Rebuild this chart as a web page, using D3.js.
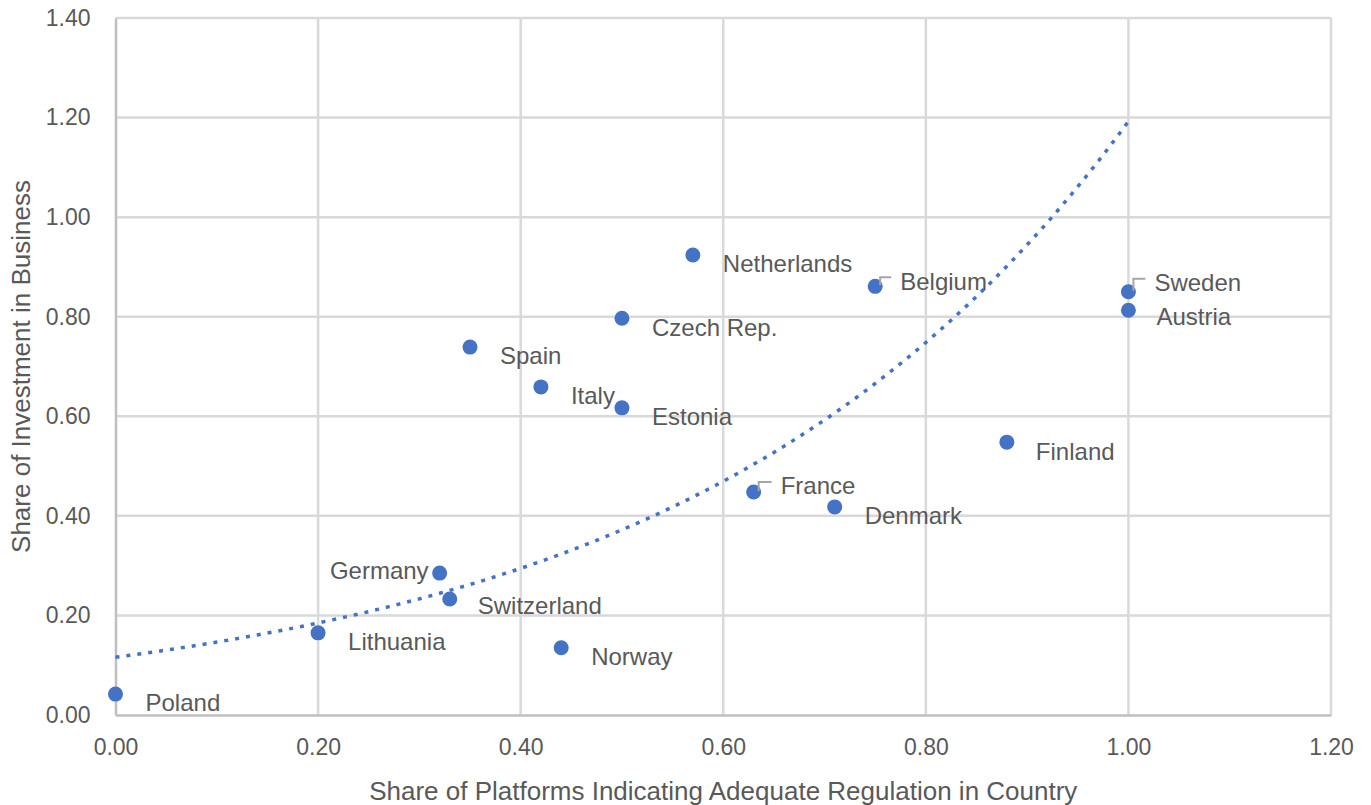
<!DOCTYPE html>
<html>
<head>
<meta charset="utf-8">
<script src="https://cdn.jsdelivr.net/npm/d3@7"></script>
<style>
  html, body { margin: 0; padding: 0; background: #fff; }
  svg { display: block; }
  text { font-family: "Liberation Sans", Arial, sans-serif; fill: #595959; }
</style>
</head>
<body>
<svg id="chart" width="1371" height="805"></svg>
<script>
// ---- data ----
const countries = ["Poland","Lithuania","Germany","Switzerland","Norway","Spain","Italy","Czech Rep.","Estonia","Netherlands","France","Denmark","Belgium","Finland","Sweden","Austria"];
const regulationShare = [0.00, 0.20, 0.32, 0.33, 0.44, 0.35, 0.42, 0.50, 0.50, 0.57, 0.63, 0.71, 0.75, 0.88, 1.00, 1.00];
const investmentShare = [0.042, 0.165, 0.285, 0.233, 0.135, 0.739, 0.659, 0.797, 0.617, 0.924, 0.448, 0.418, 0.861, 0.548, 0.850, 0.813];
// exponential trendline y = a * e^(b x), coefficients
const trendCoef = [0.116, 2.33];
const trendRange = [0, 1.0];
const xTicks = [0, 0.2, 0.4, 0.6, 0.8, 1.0, 1.2];
const yTicks = [0, 0.2, 0.4, 0.6, 0.8, 1.0, 1.2, 1.4];
const xTitle = "Share of Platforms Indicating Adequate Regulation in Country";
const yTitle = "Share of Investment in Business";

// ---- layout ----
const pLeft = 115.5, pRight = 1331, pTop = 18, pBottom = 715;
const blue = "#4472c4";
const fs = 23, lfs = 24, tfs = 26;

const svg = d3.select("#chart");
const x = d3.scaleLinear().domain([0, 1.2]).range([pLeft, pRight]);
const y = d3.scaleLinear().domain([0, 1.4]).range([pBottom, pTop]);

// gridlines
svg.append("g").selectAll("line").data(xTicks.filter(d => d > 0)).join("line")
  .attr("x1", d => x(d)).attr("x2", d => x(d)).attr("y1", pTop).attr("y2", pBottom)
  .attr("stroke", "#d9d9d9").attr("stroke-width", 2.5);
svg.append("g").selectAll("line").data(yTicks.filter(d => d > 0)).join("line")
  .attr("x1", pLeft).attr("x2", pRight).attr("y1", d => y(d)).attr("y2", d => y(d))
  .attr("stroke", "#d9d9d9").attr("stroke-width", 2.5);

// axes
const xAxis = svg.append("g").attr("transform", `translate(0,${pBottom})`)
  .call(d3.axisBottom(x).tickValues(xTicks).tickFormat(d3.format(".2f")).tickSize(0).tickPadding(24));
const yAxis = svg.append("g").attr("transform", `translate(${pLeft},0)`)
  .call(d3.axisLeft(y).tickValues(yTicks).tickFormat(d3.format(".2f")).tickSize(0).tickPadding(25));
[xAxis, yAxis].forEach(g => {
  g.select(".domain").attr("stroke", "#bfbfbf").attr("stroke-width", 2.5);
  g.selectAll("text").style("font-size", fs + "px").style("font-family", "'Liberation Sans', Arial, sans-serif").attr("fill", "#595959");
});

// axis titles
svg.append("text").attr("x", (pLeft + pRight) / 2).attr("y", 800)
  .attr("text-anchor", "middle").style("font-size", tfs + "px").text(xTitle);
svg.append("text").attr("transform", `translate(30,${(pTop + pBottom) / 2}) rotate(-90)`)
  .attr("text-anchor", "middle").style("font-size", tfs + "px").text(yTitle);

// trendline
const trendX = d3.range(trendRange[0], trendRange[1] + 0.0001, 0.01);
svg.append("path")
  .attr("d", d3.line().x(d => x(d)).y(d => y(trendCoef[0] * Math.exp(trendCoef[1] * d)))(trendX))
  .attr("fill", "none").attr("stroke", blue).attr("stroke-width", 3.5)
  .attr("stroke-dasharray", "4,7");

// points
const pts = countries.map((c, i) => ({ name: c, x: regulationShare[i], y: investmentShare[i] }));
svg.append("g").selectAll("circle").data(pts).join("circle")
  .attr("cx", d => x(d.x)).attr("cy", d => y(d.y)).attr("r", 7.5).attr("fill", blue);

// labels (placement tweaks)
const labelAdj = {
  "Germany": { anchor: "end", dx: -11, dy: -3 },
  "France": { dx: 27, dy: -6, leader: true },
  "Belgium": { dx: 25, dy: -5, leader: true },
  "Sweden": { dx: 26, dy: -9, leader: true },
  "Austria": { dx: 28, dy: 6 },
  "Switzerland": { dx: 28, dy: 7 },
  "Finland": { dx: 29, dy: 9 }
};
const lg = svg.append("g");
pts.forEach(d => {
  const adj = labelAdj[d.name] || {};
  const px = x(d.x), py = y(d.y);
  const dx = adj.dx !== undefined ? adj.dx : 30;
  const dy = adj.dy !== undefined ? adj.dy : 9;
  lg.append("text").attr("x", px + dx).attr("y", py + dy).attr("dy", "0.35em")
    .attr("text-anchor", adj.anchor || "start").style("font-size", lfs + "px").text(d.name);
  if (adj.leader) {
    const ly0 = py + dy + 2;
    lg.append("path")
      .attr("d", `M${px + 5},${py - 1}V${ly0 - 6}H${px + dx - 9}`)
      .attr("fill", "none").attr("stroke", "#a6a6a6").attr("stroke-width", 2);
  }
});
</script>
</body>
</html>
